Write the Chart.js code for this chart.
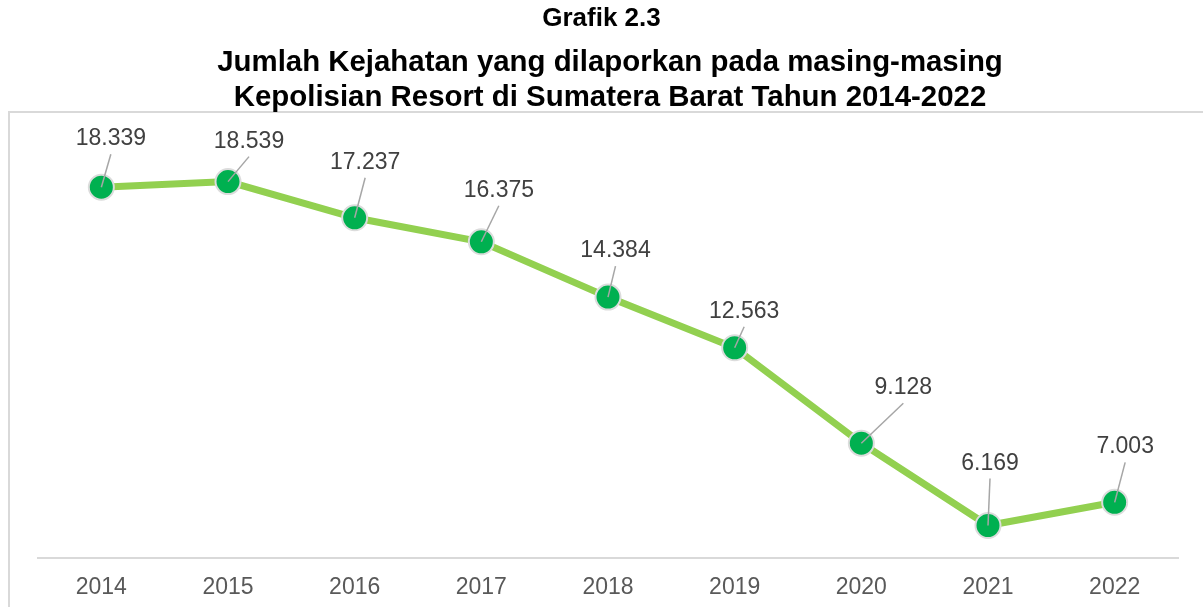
<!DOCTYPE html>
<html>
<head>
<meta charset="utf-8">
<script src="https://cdn.jsdelivr.net/npm/chart.js@4.4.1/dist/chart.umd.min.js"></script>
<style>
  html, body { margin: 0; padding: 0; background: #ffffff; }
  #wrap { width: 1203px; height: 607px; position: relative; }
</style>
</head>
<body>
<div id="wrap"><canvas id="c" width="1203" height="607"></canvas></div>
<script>
const categories = ['2014', '2015', '2016', '2017', '2018', '2019', '2020', '2021', '2022'];
const crimeCounts = [18339, 18539, 17237, 16375, 14384, 12563, 9128, 6169, 7003];
const titleLines = [
  'Grafik 2.3',
  'Jumlah Kejahatan yang dilaporkan pada masing-masing',
  'Kepolisian Resort di Sumatera Barat Tahun 2014-2022'
];

// label placement (pixel offsets of label centre/baseline relative to point)
const labelOffsetX = [9.5, 21, 10.5, 17.5, 7.5, 9.5, 42, 2, 10.5];
const labelOffsetY = [-42, -34, -49, -45, -40, -30, -49, -56, -49];

function fmt(v) {
  return String(v).replace(/\B(?=(\d{3})+(?!\d))/g, '.');
}

const titlePlugin = {
  id: 'multiTitle',
  afterDraw(chart) {
    const ctx = chart.ctx;
    ctx.save();
    ctx.fillStyle = '#000000';
    ctx.textAlign = 'center';
    ctx.textBaseline = 'alphabetic';
    ctx.font = 'bold 26px "Liberation Sans", Arial, sans-serif';
    ctx.fillText(titleLines[0], 601.5, 26);
    ctx.font = 'bold 29.4px "Liberation Sans", Arial, sans-serif';
    ctx.fillText(titleLines[1], 610, 71);
    ctx.fillText(titleLines[2], 610, 106);
    ctx.restore();
  }
};

const framePlugin = {
  id: 'frame',
  beforeDraw(chart) {
    const ctx = chart.ctx;
    ctx.save();
    ctx.strokeStyle = '#d9d9d9';
    ctx.lineWidth = 2;
    ctx.strokeRect(9, 112, 1300, 700);
    ctx.restore();
  }
};

const labelPlugin = {
  id: 'leaderLabels',
  afterDatasetsDraw(chart) {
    const ctx = chart.ctx;
    const meta = chart.getDatasetMeta(0);
    ctx.save();
    meta.data.forEach((pt, i) => {
      const lx = pt.x + labelOffsetX[i];
      const ly = pt.y + labelOffsetY[i];
      ctx.strokeStyle = '#a6a6a6';
      ctx.lineWidth = 1.5;
      ctx.beginPath();
      ctx.moveTo(lx, ly + 9);
      ctx.lineTo(pt.x, pt.y);
      ctx.stroke();
      ctx.fillStyle = '#404040';
      ctx.font = '23px "Liberation Sans", Arial, sans-serif';
      ctx.textAlign = 'center';
      ctx.textBaseline = 'alphabetic';
      ctx.fillText(fmt(crimeCounts[i]), lx, ly);
    });
    ctx.restore();
  }
};

new Chart(document.getElementById('c'), {
  type: 'line',
  data: {
    labels: categories,
    datasets: [{
      data: crimeCounts,
      borderColor: '#92d050',
      borderWidth: 7,
      backgroundColor: '#00b050',
      pointBackgroundColor: '#00b050',
      pointBorderColor: '#dcdcdc',
      pointBorderWidth: 2,
      pointRadius: 12.5,
      pointHoverRadius: 12.5,
      tension: 0,
      fill: false
    }]
  },
  options: {
    responsive: false,
    animation: false,
    devicePixelRatio: 1,
    layout: { padding: { top: 141, left: 38, right: 25, bottom: 0 } },
    plugins: {
      legend: { display: false },
      tooltip: { enabled: false },
      title: { display: false }
    },
    scales: {
      x: {
        offset: true,
        grid: { display: false, drawTicks: false },
        border: { display: true, color: '#d9d9d9', width: 2 },
        ticks: {
          color: '#595959',
          padding: 16,
          font: { family: '"Liberation Sans", Arial, sans-serif', size: 23 }
        },
        afterFit(scale) { scale.height = 49; }
      },
      y: {
        display: false,
        min: 5000,
        max: 20000
      }
    }
  },
  plugins: [framePlugin, labelPlugin, titlePlugin]
});
</script>
</body>
</html>
